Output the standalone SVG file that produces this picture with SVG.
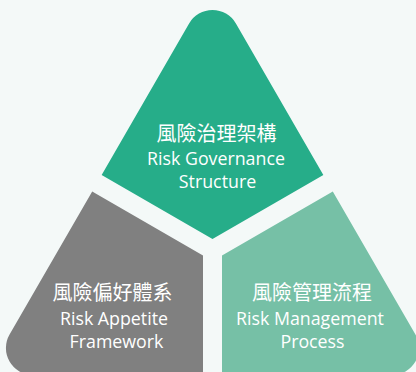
<svg xmlns="http://www.w3.org/2000/svg" width="416" height="372" viewBox="0 0 416 372">
<style>
.t{fill:#ffffff;text-anchor:middle;font-family:"Open Sans","Noto Sans",sans-serif;font-size:17.8px}
.c{fill:#ffffff;text-anchor:middle;font-family:"Noto Sans CJK TC","Noto Sans CJK SC",sans-serif;font-size:20px}
</style>
<rect width="416" height="372" fill="#f4f9f8"/>
<g id="governance">
<path d="M189.1,23.5 A27,27 0 0 1 235.9,23.5 L323.35,175 L212.5,239 L101.65,175 Z" fill="#26ad89"/>
<text class="c" x="216.5" y="140.5">風險治理架構</text>
<text class="t" x="216" y="164.5">Risk Governance</text>
<text class="t" x="217.5" y="188">Structure</text>
</g>
<g id="appetite">
<path d="M92.2,191.4 L203,255.4 L203,375 L32.94,375 A27,27 0 0 1 9.55,334.5 Z" fill="#808080"/>
<text class="c" x="112.5" y="299.5">風險偏好體系</text>
<text class="t" x="114" y="325">Risk Appetite</text>
<text class="t" x="116.5" y="347.5">Framework</text>
</g>
<g id="management">
<path d="M332.8,191.4 L222,255.4 L222,375 L392.06,375 A27,27 0 0 0 415.45,334.5 Z" fill="#76c0a6"/>
<text class="c" x="312" y="299.5">風險管理流程</text>
<text class="t" x="310" y="325">Risk Management</text>
<text class="t" x="312.5" y="347.5">Process</text>
</g>
<g id="connectors"/>
</svg>
